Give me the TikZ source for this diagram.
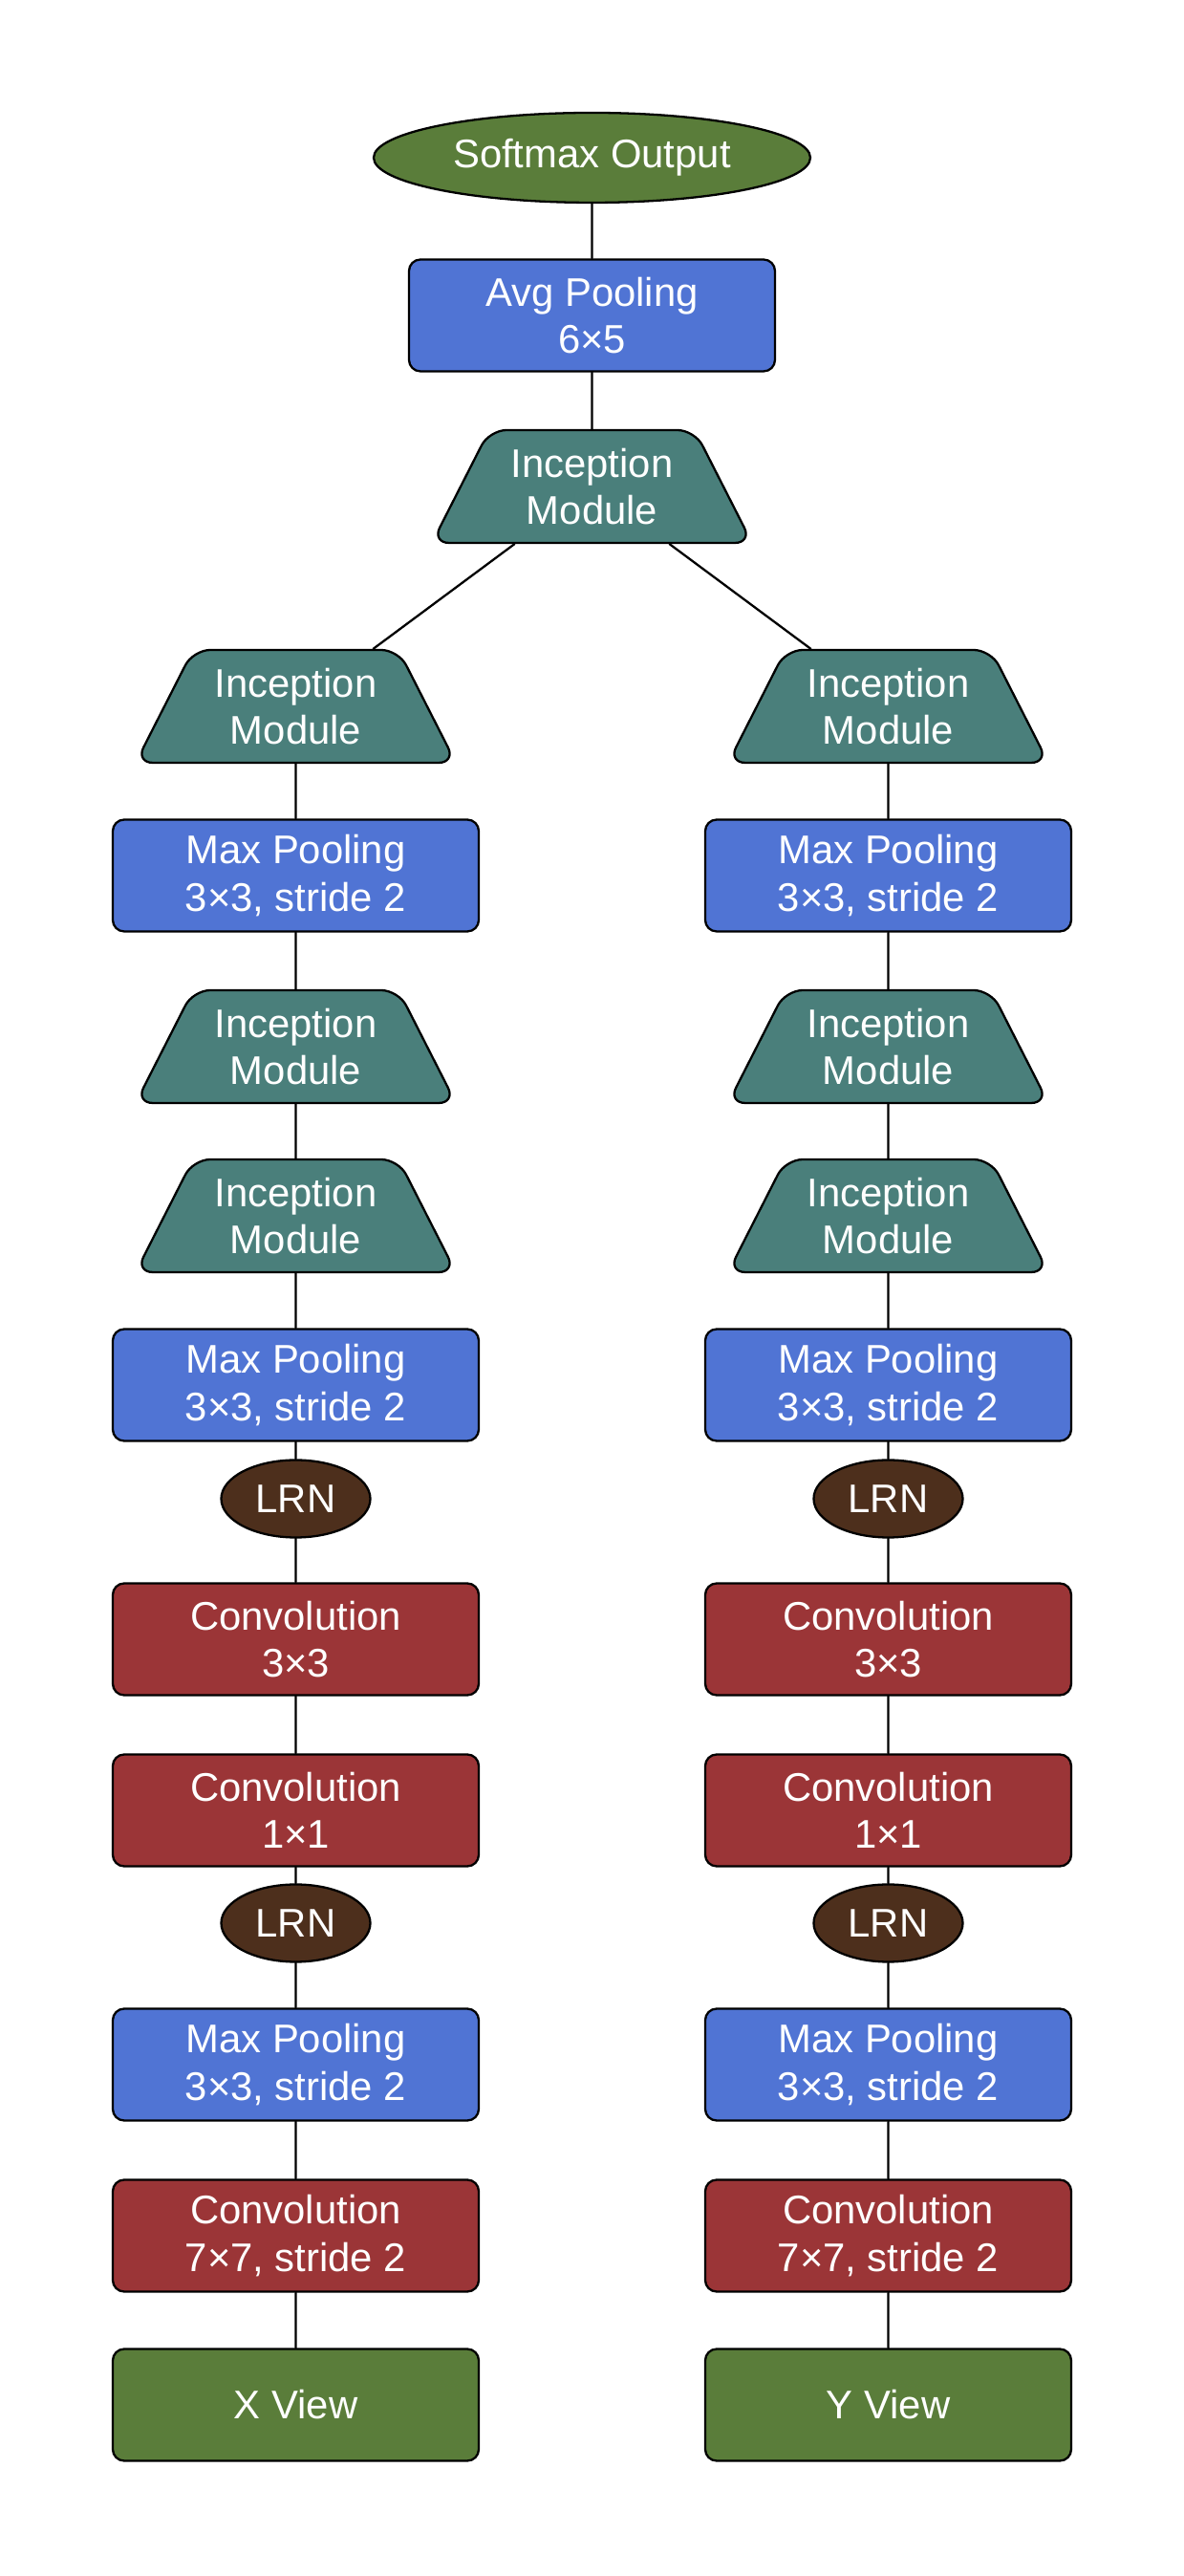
\documentclass[tikz,border=0pt]{standalone}
\usepackage{fontspec}
\setmainfont{Liberation Sans}
\usetikzlibrary{shapes.geometric}
\definecolor{poolblue}{HTML}{5074D4}
\definecolor{convred}{HTML}{9B3537}
\definecolor{incteal}{HTML}{4A7F7B}
\definecolor{viewgreen}{HTML}{5A7D3A}
\definecolor{lrnbrown}{HTML}{4D2F1C}
\tikzset{
  layer/.style={draw=black, line width=0.65pt, text=white, align=center,
    font=\fontsize{11.9}{14.1}\selectfont},
  boxlayer/.style={layer, rectangle, rounded corners=1.2mm,
    minimum width=3.83cm, minimum height=1.17cm, inner sep=0pt},
  pool/.style={boxlayer, fill=poolblue},
  conv/.style={boxlayer, fill=convred},
  view/.style={boxlayer, fill=viewgreen},
  incep/.style={layer, trapezium, trapezium angle=61, trapezium stretches body,
    rounded corners=1.8mm, fill=incteal, minimum width=3.35cm,
    minimum height=1.18cm, inner xsep=0pt, inner ysep=4pt},
  lrn/.style={layer, ellipse, fill=lrnbrown, minimum width=1.56cm,
    minimum height=0.81cm, inner sep=0pt},
  outp/.style={layer, ellipse, fill=viewgreen, minimum width=4.57cm,
    minimum height=0.94cm, inner sep=0pt},
  link/.style={line width=0.65pt}
}
\begin{document}
\begin{tikzpicture}[line join=round, line cap=round]
    \useasboundingbox (0,0) rectangle (12.39,26.95);
    % shared top
    \node[outp] (out) at (6.195,25.30) {Softmax Output};
    \node[pool] (avg) at (6.195,23.65) {Avg Pooling\\6×5};
    \node[incep] (inc) at (6.195,21.86) {Inception\\Module};
    % X view branch
    \node[incep] (xinc1) at (3.095,19.56) {Inception\\Module};
    \node[pool] (xpool1) at (3.095,17.79) {Max Pooling\\3×3, stride 2};
    \node[incep] (xinc2) at (3.095,16.00) {Inception\\Module};
    \node[incep] (xinc3) at (3.095,14.23) {Inception\\Module};
    \node[pool] (xpool2) at (3.095,12.46) {Max Pooling\\3×3, stride 2};
    \node[lrn] (xlrn1) at (3.095,11.27) {LRN};
    \node[conv] (xconv3) at (3.095,9.80) {Convolution\\3×3};
    \node[conv] (xconv1) at (3.095,8.01) {Convolution\\1×1};
    \node[lrn] (xlrn2) at (3.095,6.83) {LRN};
    \node[pool] (xpool3) at (3.095,5.35) {Max Pooling\\3×3, stride 2};
    \node[conv] (xconv7) at (3.095,3.56) {Convolution\\7×7, stride 2};
    \node[view] (xview) at (3.095,1.79) {X View};
    % Y view branch
    \node[incep] (yinc1) at (9.295,19.56) {Inception\\Module};
    \node[pool] (ypool1) at (9.295,17.79) {Max Pooling\\3×3, stride 2};
    \node[incep] (yinc2) at (9.295,16.00) {Inception\\Module};
    \node[incep] (yinc3) at (9.295,14.23) {Inception\\Module};
    \node[pool] (ypool2) at (9.295,12.46) {Max Pooling\\3×3, stride 2};
    \node[lrn] (ylrn1) at (9.295,11.27) {LRN};
    \node[conv] (yconv3) at (9.295,9.80) {Convolution\\3×3};
    \node[conv] (yconv1) at (9.295,8.01) {Convolution\\1×1};
    \node[lrn] (ylrn2) at (9.295,6.83) {LRN};
    \node[pool] (ypool3) at (9.295,5.35) {Max Pooling\\3×3, stride 2};
    \node[conv] (yconv7) at (9.295,3.56) {Convolution\\7×7, stride 2};
    \node[view] (yview) at (9.295,1.79) {Y View};
    % links
    \draw[link] (out) -- (avg) (avg) -- (inc)
        (inc) -- (xinc1) (inc) -- (yinc1);
    \draw[link] (xinc1) -- (xpool1) (xpool1) -- (xinc2) (xinc2) -- (xinc3)
        (xinc3) -- (xpool2) (xpool2) -- (xlrn1) (xlrn1) -- (xconv3)
        (xconv3) -- (xconv1) (xconv1) -- (xlrn2) (xlrn2) -- (xpool3)
        (xpool3) -- (xconv7) (xconv7) -- (xview);
    \draw[link] (yinc1) -- (ypool1) (ypool1) -- (yinc2) (yinc2) -- (yinc3)
        (yinc3) -- (ypool2) (ypool2) -- (ylrn1) (ylrn1) -- (yconv3)
        (yconv3) -- (yconv1) (yconv1) -- (ylrn2) (ylrn2) -- (ypool3)
        (ypool3) -- (yconv7) (yconv7) -- (yview);
\end{tikzpicture}
\end{document}
